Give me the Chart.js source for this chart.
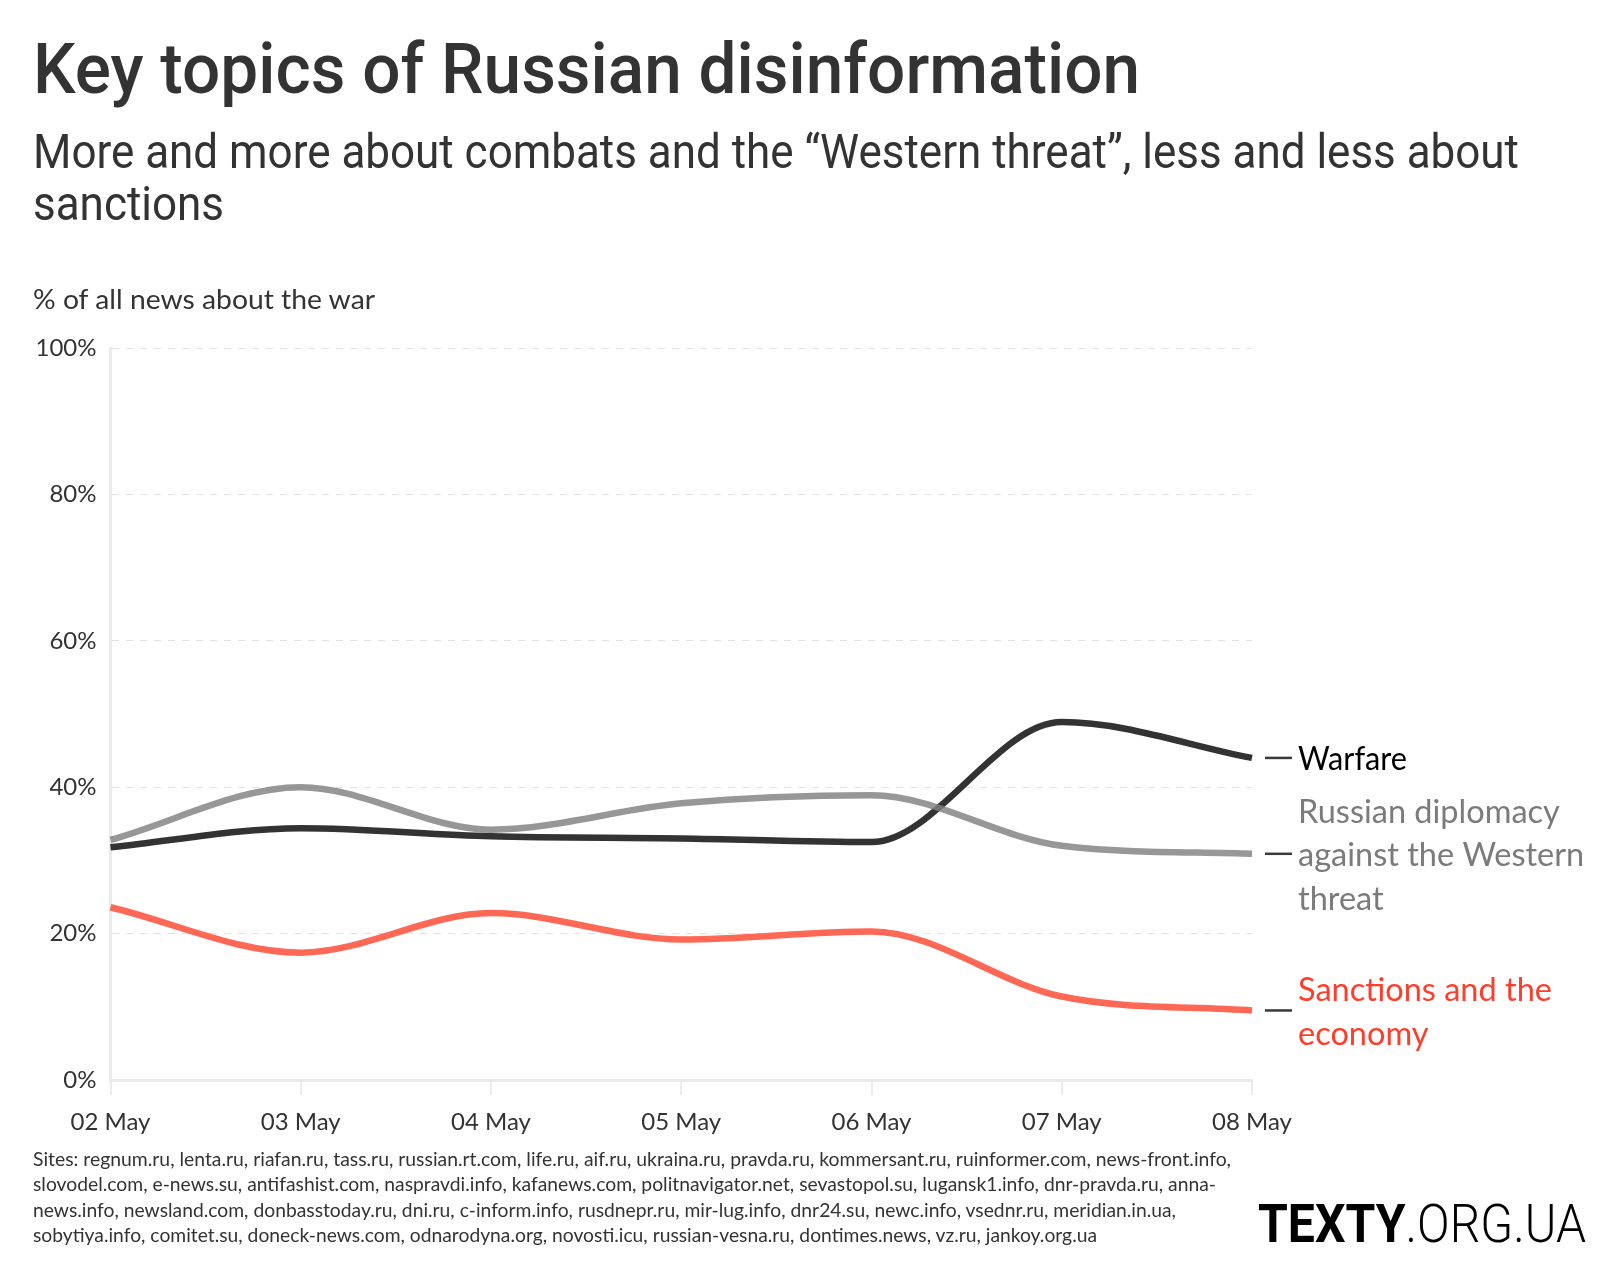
<!DOCTYPE html>
<html>
<head>
<meta charset="utf-8">
<script src="https://cdn.jsdelivr.net/npm/chart.js@4/dist/chart.umd.min.js"></script>
<style>
  body { margin: 0; width: 1620px; height: 1280px; background: #fff; position: relative; overflow: hidden; color: #333; }
  #chart { position: absolute; left: 0; top: 0; }
  .txt { position: absolute; white-space: nowrap; transform-origin: 0 0; line-height: 1; }
  #title { left: 33px; top: 34px; font-family: Roboto, sans-serif; font-weight: 500; font-size: 70px; color: #333; }
  .sub { left: 33px; font-family: Roboto, sans-serif; font-weight: 400; font-size: 48px; color: #333; }
  #axisTitle { left: 33px; top: 286px; font-family: Lato, sans-serif; font-size: 26px; color: #333; }
  .note { left: 33px; font-family: Lato, sans-serif; font-size: 19px; color: #333; line-height: 25px; }
  #logo { left: 1258px; top: 1197px; font-family: Roboto, sans-serif; font-size: 54px; color: #000; }
  #logo b { font-weight: 700; }
  #logo span { font-weight: 300; }
</style>
</head>
<body>
<canvas id="chart" width="1620" height="1280"></canvas>

<div class="txt" id="title" data-w="1107">Key topics of Russian disinformation</div>
<div class="txt sub" style="top:128px" data-w="1486">More and more about combats and the “Western threat”, less and less about</div>
<div class="txt sub" style="top:180px" data-w="191">sanctions</div>
<div class="txt" id="axisTitle" data-w="342">% of all news about the war</div>

<div class="txt note" style="top:1146px" data-w="1198">Sites: regnum.ru, lenta.ru, riafan.ru, tass.ru, russian.rt.com, life.ru, aif.ru, ukraina.ru, pravda.ru, kommersant.ru, ruinformer.com, news-front.info,</div>
<div class="txt note" style="top:1171px" data-w="1183">slovodel.com, e-news.su, antifashist.com, naspravdi.info, kafanews.com, politnavigator.net, sevastopol.su, lugansk1.info, dnr-pravda.ru, anna-</div>
<div class="txt note" style="top:1197px" data-w="1143">news.info, newsland.com, donbasstoday.ru, dni.ru, c-inform.info, rusdnepr.ru, mir-lug.info, dnr24.su, newc.info, vsednr.ru, meridian.in.ua,</div>
<div class="txt note" style="top:1222px" data-w="1064">sobytiya.info, comitet.su, doneck-news.com, odnarodyna.org, novosti.icu, russian-vesna.ru, dontimes.news, vz.ru, jankoy.org.ua</div>

<div class="txt" id="logo" data-w="328"><b>TEXTY</b><span>.ORG.UA</span></div>

<script>
const days = ['02 May', '03 May', '04 May', '05 May', '06 May', '07 May', '08 May'];

// % of all news about the war
const warfare = [31.8, 34.4, 33.3, 33.0, 32.5, 48.9, 44.0];
const diplomacy = [32.8, 40.0, 34.2, 37.8, 38.9, 32.0, 30.9];
const sanctions = [23.6, 17.4, 22.8, 19.2, 20.3, 11.4, 9.5];

const seriesNames = [
  ['Warfare'],
  ['Russian diplomacy', 'against the Western', 'threat'],
  ['Sanctions and the', 'economy']
];
const lineColors = ['#333333', 'rgba(128, 128, 128, 0.82)', '#ff6854'];
const labelColors = ['#000000', '#7b7b7b', '#ff3d2b'];

// squeeze the html text to the width it has in the original
document.querySelectorAll('.txt').forEach(el => {
  const target = parseFloat(el.dataset.w);
  const w = el.getBoundingClientRect().width;
  if (target && w) el.style.transform = `scaleX(${target / w})`;
});

const endLabels = {
  id: 'endLabels',
  afterDatasetsDraw(chart) {
    const ctx = chart.ctx;
    const right = chart.chartArea.right;
    const lineH = 43.4;
    chart.data.datasets.forEach((ds, i) => {
      const meta = chart.getDatasetMeta(i);
      const pt = meta.data[meta.data.length - 1];
      const y = pt.y;

      ctx.save();
      ctx.strokeStyle = '#3a3a3a';
      ctx.lineWidth = 2.5;
      ctx.beginPath();
      ctx.moveTo(right + 13, y);
      ctx.lineTo(right + 40, y);
      ctx.stroke();

      const lines = seriesNames[i];
      ctx.font = '32.5px Lato, sans-serif';
      ctx.fillStyle = labelColors[i];
      ctx.textBaseline = 'middle';
      ctx.textAlign = 'left';
      const startY = y + 2 - (lines.length - 1) * lineH / 2;
      lines.forEach((t, j) => {
        if (i === 0) ctx.fillText(t, right + 46, startY + j * lineH, 109);
        else ctx.fillText(t, right + 46, startY + j * lineH);
      });
      ctx.restore();
    });
  }
};

const ctx = document.getElementById('chart').getContext('2d');

new Chart(ctx, {
  type: 'line',
  data: {
    labels: days,
    datasets: [
      { label: 'Warfare', data: warfare, borderColor: lineColors[0], order: 1 },
      { label: 'Russian diplomacy against the Western threat', data: diplomacy, borderColor: lineColors[1], order: 0 },
      { label: 'Sanctions and the economy', data: sanctions, borderColor: lineColors[2], order: 2 }
    ]
  },
  options: {
    responsive: false,
    animation: false,
    devicePixelRatio: 1,
    elements: {
      line: { borderWidth: 6.5, cubicInterpolationMode: 'monotone', borderCapStyle: 'butt' },
      point: { radius: 0, hoverRadius: 0 }
    },
    layout: {
      padding: { left: 10, top: 348, right: 368, bottom: 140 }
    },
    plugins: {
      legend: { display: false },
      tooltip: { enabled: false }
    },
    scales: {
      x: {
        afterFit: scale => { scale.height = 60; },
        border: { color: '#ebebeb', width: 3 },
        grid: { drawOnChartArea: false, drawTicks: true, tickLength: 15, color: '#ebebeb', lineWidth: 2 },
        ticks: { color: '#333', padding: 13, maxRotation: 0, font: { family: 'Lato', size: 24 } }
      },
      y: {
        min: 0,
        max: 100,
        afterFit: scale => { scale.width = 100.5; },
        border: { color: '#ebebeb', width: 3, dash: [7, 7] },
        grid: {
          drawTicks: false,
          color: c => c.tick && c.tick.value === 0 ? 'rgba(0,0,0,0)' : '#e2e2e2',
          lineWidth: 1
        },
        ticks: {
          stepSize: 20,
          color: '#333',
          padding: 14,
          font: { family: 'Lato', size: 24 },
          callback: v => v + '%'
        }
      }
    }
  },
  plugins: [endLabels]
});
</script>
</body>
</html>
